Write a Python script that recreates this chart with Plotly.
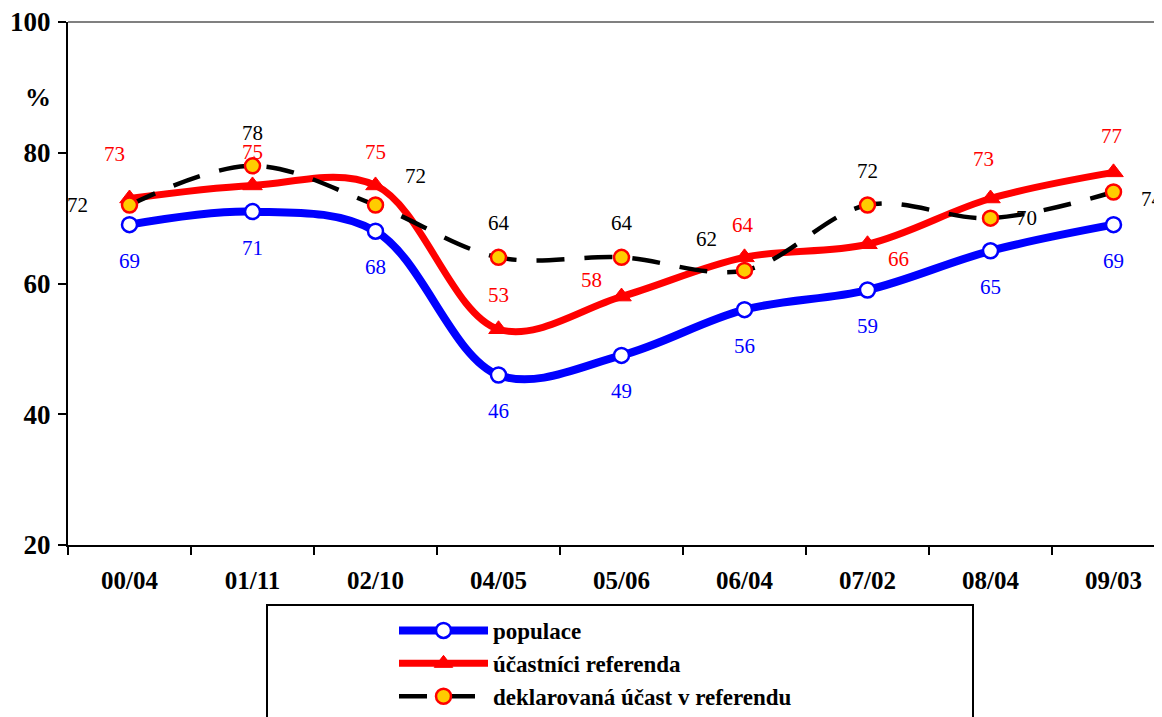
import plotly.graph_objects as go

# ---------------------------------------------------------------------------
# Data
# ---------------------------------------------------------------------------
CATEGORIES = ["00/04", "01/11", "02/10", "04/05", "05/06", "06/04", "07/02", "08/04", "09/03"]
POPULACE = [69, 71, 68, 46, 49, 56, 59, 65, 69]
UCASTNICI = [73, 75, 75, 53, 58, 64, 66, 73, 77]
DEKLAROVANA = [72, 78, 72, 64, 64, 62, 72, 70, 74]

SERIES_NAMES = ["populace", "účastníci referenda", "deklarovaná účast v referendu"]

Y_TICKS = [20, 40, 60, 80, 100]

# label offsets in pixels (dx, dy), dy positive = downwards
BLUE_OFFSETS = [(0, 36)] * 9
RED_OFFSETS = [(-15, -45), (0, -33), (0, -33), (0, -34), (-30, -17),
               (-2, -32), (31, 15), (-7, -40), (-2, -36)]
BLACK_OFFSETS = [(-52, 0), (0, -33), (40, -29), (0, -34), (0, -34),
                 (-38, -31), (0, -34), (36, 0), (38, 7)]

# ---------------------------------------------------------------------------
# Styling
# ---------------------------------------------------------------------------
FONT = "Liberation Serif, Times New Roman, serif"
BLUE = "#0000FF"
RED = "#FF0000"
BLACK = "#000000"
GOLD = "#FFCC00"

# the page body adds an 8px margin, so the figure is 8px smaller
OFF = 8
W, H = 1162 - OFF, 717 - OFF
M_L, M_T = 68 - OFF, 22 - OFF
PLOT_BOTTOM = 545 - OFF
M_B = H - PLOT_BOTTOM
PLOT_W = W - M_L
PLOT_H = PLOT_BOTTOM - M_T


def px_to_paper_x(px):
    return (px - OFF - M_L) / PLOT_W


def px_to_paper_y(py):
    return (PLOT_BOTTOM - (py - OFF)) / PLOT_H


x_vals = list(range(len(CATEGORIES)))

fig = go.Figure()

fig.add_trace(
    go.Scatter(
        x=x_vals,
        y=POPULACE,
        name=SERIES_NAMES[0],
        mode="lines+markers",
        line=dict(color=BLUE, width=8, shape="spline", smoothing=1),
        marker=dict(symbol="circle", size=15, color="white", line=dict(color=BLUE, width=2.5)),
        cliponaxis=False,
    )
)
fig.add_trace(
    go.Scatter(
        x=x_vals,
        y=UCASTNICI,
        name=SERIES_NAMES[1],
        mode="lines+markers",
        line=dict(color=RED, width=7, shape="spline", smoothing=1),
        marker=dict(symbol="triangle-up", size=17, color=RED, line=dict(color=RED, width=1)),
        cliponaxis=False,
    )
)
fig.add_trace(
    go.Scatter(
        x=x_vals,
        y=DEKLAROVANA,
        name=SERIES_NAMES[2],
        mode="lines+markers",
        line=dict(color=BLACK, width=4.5, shape="spline", smoothing=1, dash="28px,20px"),
        marker=dict(symbol="circle", size=15, color=GOLD, line=dict(color=RED, width=2.5)),
        cliponaxis=False,
    )
)

# Data labels
annotations = []
for values, offsets, color in [
    (POPULACE, BLUE_OFFSETS, BLUE),
    (UCASTNICI, RED_OFFSETS, RED),
    (DEKLAROVANA, BLACK_OFFSETS, BLACK),
]:
    for xi, (val, (dx, dy)) in enumerate(zip(values, offsets)):
        annotations.append(
            dict(
                x=xi, y=val, xref="x", yref="y",
                text=str(val), showarrow=False,
                xanchor="center", yanchor="middle",
                xshift=dx, yshift=-dy,
                font=dict(family=FONT, size=21, color=color),
            )
        )

annotations.append(
    dict(
        x=px_to_paper_x(38), y=88.5, xref="paper", yref="y",
        text="%", showarrow=False,
        xanchor="center", yanchor="middle",
        font=dict(family=FONT, size=26, color=BLACK, weight="bold"),
    )
)

shapes = [
    # grey top border of the plot area
    dict(type="line", xref="paper", yref="paper", x0=0, x1=1, y0=1, y1=1,
         line=dict(color="#808080", width=2)),
    # legend frame
    dict(type="rect", xref="paper", yref="paper",
         x0=px_to_paper_x(267), x1=px_to_paper_x(973),
         y0=px_to_paper_y(605), y1=px_to_paper_y(740),
         line=dict(color=BLACK, width=2), fillcolor="rgba(0,0,0,0)"),
]

fig.update_layout(
    width=W,
    height=H,
    margin=dict(l=M_L, r=0, t=M_T, b=M_B, pad=0, autoexpand=False),
    plot_bgcolor="white",
    paper_bgcolor="white",
    font=dict(family=FONT, color=BLACK),
    showlegend=True,
    legend=dict(
        x=px_to_paper_x(394),
        y=px_to_paper_y(609),
        xanchor="left",
        yanchor="top",
        itemwidth=89,
        font=dict(family=FONT, size=23, color=BLACK, weight="bold"),
        bgcolor="rgba(0,0,0,0)",
        borderwidth=0,
    ),
    annotations=annotations,
    shapes=shapes,
)

fig.update_xaxes(
    range=[-0.5, -0.5 + PLOT_W / 123.0],
    tickmode="array",
    tickvals=x_vals,
    ticktext=CATEGORIES,
    ticks="",
    ticklabelstandoff=12,
    ticklabeloverflow="allow",
    automargin=False,
    tickfont=dict(family=FONT, size=25, color=BLACK, weight="bold"),
    showgrid=False,
    zeroline=False,
    showline=True,
    linecolor=BLACK,
    linewidth=2,
    minor=dict(
        tickmode="array",
        tickvals=[i - 0.5 for i in x_vals],
        ticks="outside",
        ticklen=8,
        tickwidth=2,
        tickcolor=BLACK,
        showgrid=False,
    ),
)

fig.update_yaxes(
    range=[20, 100],
    tickmode="array",
    tickvals=Y_TICKS,
    ticks="outside",
    ticklen=8,
    tickwidth=2,
    tickcolor=BLACK,
    ticklabelstandoff=2,
    ticklabeloverflow="allow",
    automargin=False,
    tickfont=dict(family=FONT, size=27, color=BLACK, weight="bold"),
    showgrid=False,
    zeroline=False,
    showline=True,
    linecolor=BLACK,
    linewidth=2,
)

fig.write_html("out.html")
